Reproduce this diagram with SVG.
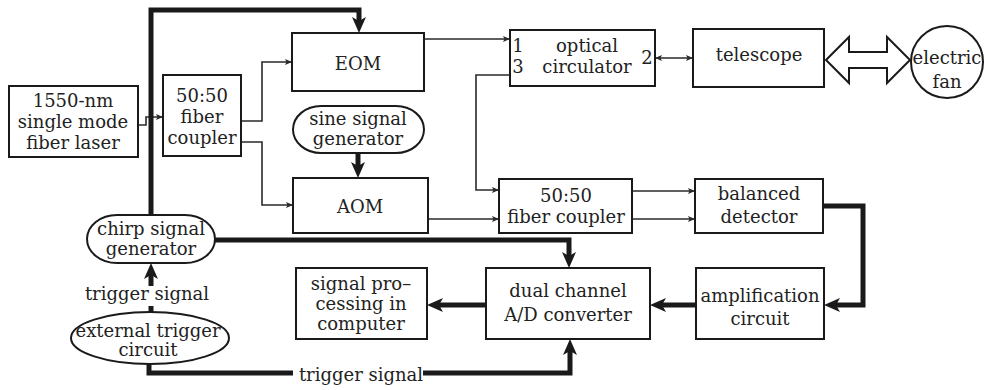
<svg xmlns="http://www.w3.org/2000/svg" width="986" height="390" viewBox="0 0 986 390">
  <style>
    .box { fill: #fff; stroke: #1a1a1a; stroke-width: 2; }
    .lbl { font-family: "DejaVu Serif", "Liberation Serif", serif; font-size: 18px; fill: #222; text-anchor: middle; }
    .thin { fill: none; stroke: #2a2a2a; stroke-width: 1.6; }
    .thick { fill: none; stroke: #1a1a1a; stroke-width: 5; stroke-linejoin: miter; }
  </style>
  <defs>
    <marker id="ah" markerUnits="userSpaceOnUse" markerWidth="20" markerHeight="16" refX="6" refY="0" orient="auto" overflow="visible">
      <path d="M0,-7 L16,0 L0,7 L4,0 Z" fill="#1a1a1a"/>
    </marker>
    <marker id="ahs" markerUnits="userSpaceOnUse" markerWidth="10" markerHeight="8" refX="7" refY="0" orient="auto-start-reverse" overflow="visible">
      <path d="M0,-3 L7,0 L0,3 L1.5,0 Z" fill="#2a2a2a"/>
    </marker>
  </defs>

  <g id="connectors">
    <!-- optical paths -->
    <path class="thin" d="M138,125 H146 V117 H163" marker-end="url(#ahs)"/>
    <path class="thin" d="M241,121 H262 V62 H292" marker-end="url(#ahs)"/>
    <path class="thin" d="M241,142 H262 V205 H293" marker-end="url(#ahs)"/>
    <path class="thin" d="M424,39 H510" marker-end="url(#ahs)"/>
    <path class="thin" d="M655,58 H693" marker-start="url(#ahs)" marker-end="url(#ahs)"/>
    <path class="thin" d="M510,75 H476 V190 H499" marker-end="url(#ahs)"/>
    <path class="thin" d="M428,219 H499" marker-end="url(#ahs)"/>
    <path class="thin" d="M632,191 H695" marker-end="url(#ahs)"/>
    <path class="thin" d="M632,219 H695" marker-end="url(#ahs)"/>
    <!-- free-space beam between telescope and target -->
    <polygon points="826,60 849,37 849,52 887,52 887,37 910,60 887,83 887,68 849,68 849,83" fill="#fff" stroke="#1a1a1a" stroke-width="2" stroke-linejoin="miter"/>

    <!-- electrical paths -->
    <path class="thick" d="M151,215 V10 H359 V23" marker-end="url(#ah)"/>
    <path class="thick" d="M358,153 V168" marker-end="url(#ah)"/>
    <path class="thick" d="M215,240 H569 V258" marker-end="url(#ah)"/>
    <path class="thick" d="M823,206 H863 V305 H834" marker-end="url(#ah)"/>
    <path class="thick" d="M696,305 H660" marker-end="url(#ah)"/>
    <path class="thick" d="M486,305 H437" marker-end="url(#ah)"/>
    <path class="thick" d="M151,312 V306"/>
    <path class="thick" d="M151,286 V273" marker-end="url(#ah)"/>
    <path class="thick" d="M149,363 V373 H293"/>
    <path class="thick" d="M423,373 H570 V349" marker-end="url(#ah)"/>
    <text class="lbl" x="147" y="300">trigger signal</text>
    <text class="lbl" x="361" y="381">trigger signal</text>
  </g>

  <g id="laser">
    <rect class="box" x="9" y="86" width="129" height="71"/>
    <text class="lbl" x="73" y="107">1550-nm</text>
    <text class="lbl" x="73" y="128">single mode</text>
    <text class="lbl" x="73" y="149">fiber laser</text>
  </g>
  <g id="coupler1">
    <rect class="box" x="163" y="75" width="78" height="81"/>
    <text class="lbl" x="202" y="102">50:50</text>
    <text class="lbl" x="202" y="123">fiber</text>
    <text class="lbl" x="202" y="144">coupler</text>
  </g>
  <g id="eom">
    <rect class="box" x="292" y="33" width="132" height="58"/>
    <text class="lbl" x="358" y="70">EOM</text>
  </g>
  <g id="sine">
    <rect class="box" x="293" y="106" width="131" height="47" rx="28" ry="23.5"/>
    <text class="lbl" x="358" y="125">sine signal</text>
    <text class="lbl" x="358" y="145">generator</text>
  </g>
  <g id="aom">
    <rect class="box" x="293" y="178" width="135" height="55"/>
    <text class="lbl" x="360" y="213">AOM</text>
  </g>
  <g id="circulator">
    <rect class="box" x="510" y="30" width="145" height="56"/>
    <text class="lbl" x="518" y="52">1</text>
    <text class="lbl" x="518" y="73">3</text>
    <text class="lbl" x="587" y="52">optical</text>
    <text class="lbl" x="587" y="73">circulator</text>
    <text class="lbl" x="647" y="64">2</text>
  </g>
  <g id="telescope">
    <rect class="box" x="693" y="29" width="131" height="58"/>
    <text class="lbl" x="759" y="61">telescope</text>
  </g>
  <g id="fan">
    <circle class="box" cx="947" cy="62" r="36"/>
    <text class="lbl" x="947" y="64">electric</text>
    <text class="lbl" x="947" y="88">fan</text>
  </g>
  <g id="coupler2">
    <rect class="box" x="499" y="179" width="133" height="54"/>
    <text class="lbl" x="566" y="202">50:50</text>
    <text class="lbl" x="566" y="223">fiber coupler</text>
  </g>
  <g id="detector">
    <rect class="box" x="695" y="179" width="128" height="54"/>
    <text class="lbl" x="759" y="200">balanced</text>
    <text class="lbl" x="759" y="223">detector</text>
  </g>
  <g id="amplifier">
    <rect class="box" x="696" y="268" width="128" height="71"/>
    <text class="lbl" x="760" y="302">amplification</text>
    <text class="lbl" x="760" y="325">circuit</text>
  </g>
  <g id="adc">
    <rect class="box" x="486" y="268" width="164" height="71"/>
    <text class="lbl" x="568" y="297">dual channel</text>
    <text class="lbl" x="568" y="321">A/D converter</text>
  </g>
  <g id="processing">
    <rect class="box" x="296" y="268" width="131" height="71"/>
    <text class="lbl" x="361" y="290">signal pro–</text>
    <text class="lbl" x="361" y="310">cessing in</text>
    <text class="lbl" x="361" y="330">computer</text>
  </g>
  <g id="chirp">
    <rect class="box" x="87" y="215" width="128" height="48" rx="30" ry="24"/>
    <text class="lbl" x="151" y="235">chirp signal</text>
    <text class="lbl" x="151" y="255">generator</text>
  </g>
  <g id="trigger">
    <ellipse class="box" cx="150" cy="338" rx="79" ry="26"/>
    <text class="lbl" x="148" y="337">external trigger</text>
    <text class="lbl" x="148" y="356">circuit</text>
  </g>
</svg>
